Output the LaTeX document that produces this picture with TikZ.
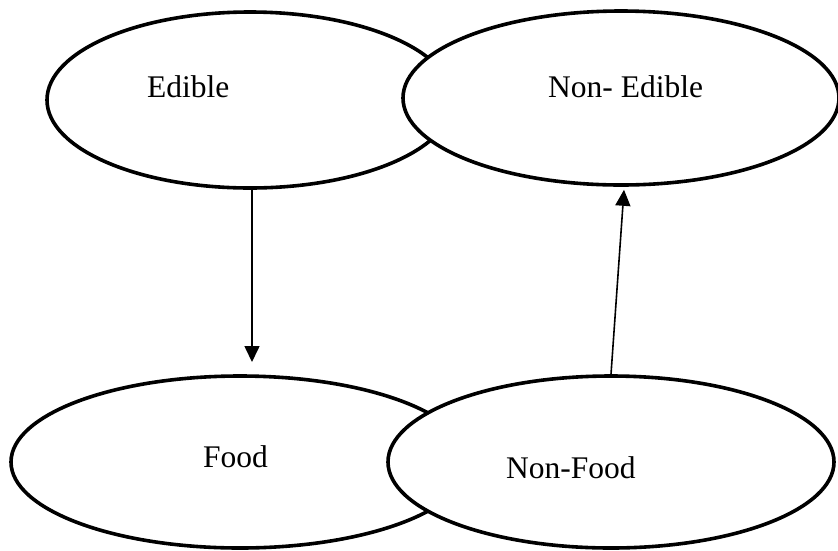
\documentclass[tikz,border=0pt]{standalone}
\usepackage{fontspec}
\setmainfont{Liberation Serif}
\usetikzlibrary{shapes.geometric,arrows.meta}
\begin{document}
\begin{tikzpicture}[x=1pt,y=-1pt,
  oval/.style={ellipse,draw=black,fill=white,line width=3.6pt,inner sep=0pt},
  word/.style={anchor=base west,inner sep=0pt,font=\fontsize{31.5}{36}\selectfont},
  flow/.style={line width=1.6pt,-{Triangle[length=16pt,width=15pt]}}]
\useasboundingbox (0,0) rectangle (838,550);
% upper pair
\node[oval,minimum width=406pt,minimum height=176pt] (edible) at (250,100) {};
\node[oval,minimum width=436pt,minimum height=174pt] (nonedible) at (621,98) {};
% lower pair
\node[oval,minimum width=458pt,minimum height=172pt] (food) at (240,462) {};
\node[oval,minimum width=446pt,minimum height=172pt] (nonfood) at (611,462) {};
% labels
\node[word] (tedible) at (147,97) {Edible};
\node[word] (tnonedible) at (548,97) {Non- Edible};
\node[word] (tfood) at (203,467) {Food};
\node[word] (tnonfood) at (506,478) {Non-Food};
% connectors
\coordinate (foodin) at (252,362);
\draw[flow] ([xshift=2pt]edible.south) -- (foodin);
\draw[flow] (nonfood.north) -- ([xshift=3pt,yshift=-3pt]nonedible.south);
\end{tikzpicture}
\end{document}
